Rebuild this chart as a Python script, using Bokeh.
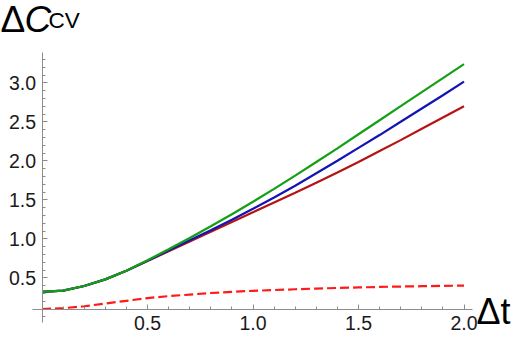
from bokeh.plotting import figure
from bokeh.models import Range1d, FixedTicker, Label, PrintfTickFormatter
from bokeh.embed import file_html
from bokeh.resources import INLINE

# ---- data ----
t = [0.0, 0.1, 0.2, 0.3, 0.4, 0.5, 0.6, 0.7, 0.8, 0.9, 1.0,
     1.1, 1.2, 1.3, 1.4, 1.5, 1.6, 1.7, 1.8, 1.9, 2.0]
green = [0.320, 0.335, 0.395, 0.480, 0.590, 0.725, 0.865, 1.010, 1.160, 1.315, 1.475,
         1.640, 1.810, 1.985, 2.160, 2.340, 2.520, 2.700, 2.880, 3.060, 3.240]
blue = [0.320, 0.335, 0.395, 0.480, 0.590, 0.720, 0.850, 0.980, 1.110, 1.245, 1.385,
        1.530, 1.680, 1.840, 2.000, 2.165, 2.330, 2.500, 2.670, 2.840, 3.015]
red = [0.320, 0.335, 0.395, 0.480, 0.590, 0.715, 0.840, 0.965, 1.090, 1.215, 1.340,
       1.465, 1.590, 1.720, 1.850, 1.985, 2.125, 2.265, 2.410, 2.555, 2.700]
dashed = [0.100, 0.110, 0.135, 0.170, 0.205, 0.240, 0.265, 0.285, 0.305, 0.320, 0.333,
          0.343, 0.353, 0.362, 0.370, 0.377, 0.383, 0.388, 0.392, 0.396, 0.400]

x_major = [0.5, 1.0, 1.5, 2.0]
x_minor = [0.1, 0.2, 0.3, 0.4, 0.6, 0.7, 0.8, 0.9, 1.1, 1.2, 1.3, 1.4, 1.6, 1.7, 1.8, 1.9]
y_major = [0.5, 1.0, 1.5, 2.0, 2.5, 3.0]
y_minor = [0.0, 0.1, 0.2, 0.3, 0.4, 0.6, 0.7, 0.8, 0.9, 1.1, 1.2, 1.3, 1.4,
           1.6, 1.7, 1.8, 1.9, 2.1, 2.2, 2.3, 2.4, 2.6, 2.7, 2.8, 2.9, 3.1, 3.2, 3.3]

# ---- layout (window pixel geometry) ----
W, H = 516, 335
LEFT, TOP = 0, 0
X0, SX = 41.5, 211.0   # window px of t=0, px per unit
Y0, SY = 316.3, 78.0   # window px of value 0, px per unit


def wx(px):
    return (px - X0) / SX


def wy(py):
    return (Y0 - py) / SY


p = figure(width=W, height=H,
           x_range=Range1d(wx(LEFT), wx(LEFT + W)),
           y_range=Range1d(wy(TOP + H), wy(TOP)),
           output_backend="svg", toolbar_location=None,
           min_border=0, min_border_left=0, min_border_right=0,
           min_border_top=0, min_border_bottom=0)
p.outline_line_color = None
p.xgrid.visible = False
p.ygrid.visible = False
p.background_fill_color = "white"

axis_color = "#8c8c8c"
label_color = "#1a1a1a"
tick_font = "Liberation Sans"

for ax in (p.xaxis[0], p.yaxis[0]):
    ax.axis_line_color = axis_color
    ax.axis_line_width = 1
    ax.major_tick_line_color = axis_color
    ax.minor_tick_line_color = axis_color
    ax.major_tick_out = 0
    ax.minor_tick_out = 0
    ax.major_tick_in = 5
    ax.minor_tick_in = 3
    ax.major_label_text_font = tick_font
    ax.major_label_text_font_size = "19.5px"
    ax.major_label_text_color = label_color
    ax.formatter = PrintfTickFormatter(format="%.1f")

xa = p.xaxis[0]
xa.fixed_location = 0.1
xa.bounds = (-0.045, 2.04)
xa.ticker = FixedTicker(ticks=x_major, minor_ticks=x_minor)
xa.major_label_standoff = 7

ya = p.yaxis[0]
ya.fixed_location = 0.0
ya.bounds = (-0.07, 3.39)
ya.ticker = FixedTicker(ticks=y_major, minor_ticks=y_minor)
ya.major_label_standoff = 6

# ---- curves ----
p.line(t, dashed, line_color="#ff1a1a", line_width=2.2, line_dash="9 4")
p.line(t, red, line_color="#b41414", line_width=2.2)
p.line(t, blue, line_color="#1414b4", line_width=2.2)
p.line(t, green, line_color="#14a014", line_width=2.2)

# ---- axis titles ----
big = "37px"
p.add_layout(Label(x=wx(0), y=wy(19), text="Δ", text_font="Liberation Sans",
                   text_font_size=big, text_color="black",
                   text_baseline="alphabetic", text_align="left"))
p.add_layout(Label(x=wx(24), y=wy(19), text="C", text_font="Liberation Sans",
                   text_font_style="italic", text_font_size=big, text_color="black",
                   text_baseline="alphabetic", text_align="left"))
p.add_layout(Label(x=wx(48), y=wy(20), text="CV", text_font="Liberation Sans",
                   text_font_size="22.5px", text_color="black",
                   text_baseline="alphabetic", text_align="left"))
p.add_layout(Label(x=wx(476), y=wy(311), text="Δt", text_font="Liberation Sans",
                   text_font_size="36px", text_color="black",
                   text_baseline="alphabetic", text_align="left"))

open("out.html", "w").write(file_html(p, INLINE))
